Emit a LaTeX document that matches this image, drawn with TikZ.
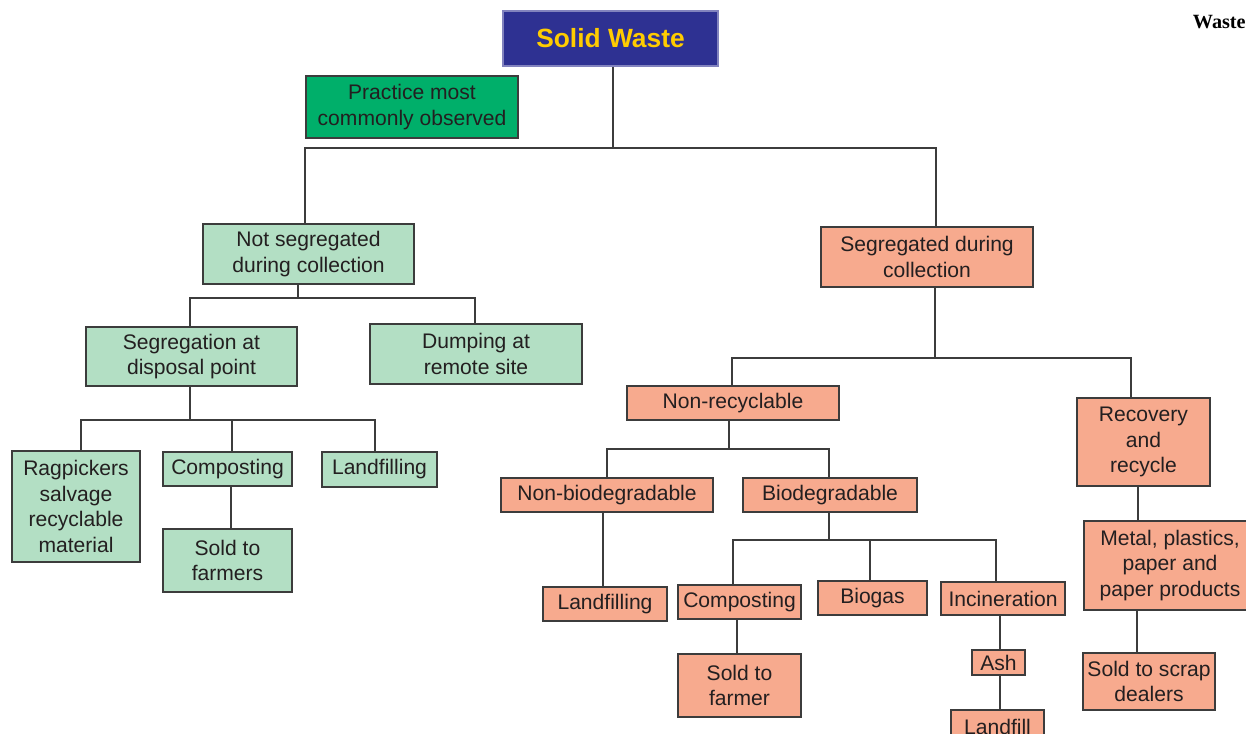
\documentclass[tikz,border=0pt]{standalone}
\usepackage{fontspec}
\setmainfont{Liberation Sans}
\newfontfamily\headfont{Liberation Serif}
\usepackage{tikz}
\usetikzlibrary{positioning}

\definecolor{titleblue}{HTML}{2E3192}
\definecolor{titleyellow}{HTML}{FFCC00}
\definecolor{practicegreen}{HTML}{00AF6A}
\definecolor{leafgreen}{HTML}{B3DFC4}
\definecolor{peach}{HTML}{F7AA8E}
\definecolor{boxline}{HTML}{3C3C3C}
\definecolor{ink}{HTML}{231F20}

\tikzset{
  box/.style={draw=boxline, line width=0.8pt, align=center, inner sep=0pt,
    text=ink, font=\fontsize{12}{14.6}\selectfont},
  greenbox/.style={box, fill=leafgreen},
  peachbox/.style={box, fill=peach},
  link/.style={draw=boxline, line width=0.8pt},
}

% parent, x of stem, y of bus, list of x/child
\newcommand{\branch}[4]{%
  \coordinate (stem-#1) at (#2,#3);
  \draw[link] (#1.south -| stem-#1) -- (stem-#1);
  \foreach \x/\c in {#4}{%
    \coordinate (drop-\c) at (\x,#3);
    \draw[link] (stem-#1) -- (drop-\c) -- (drop-\c |- \c.north);
  }%
}

\begin{document}
\begin{tikzpicture}[x=0.02cm, y=-0.02cm]
  \useasboundingbox (0,0) rectangle (1246,733);

  % ── header ──
  \node[anchor=base east, inner sep=0pt, font=\headfont\bfseries\fontsize{11.5}{13}\selectfont]
    (hdr) at (1246,29) {Waste};

  % ── top ──
  \node[box, fill=titleblue, draw=titleblue!60, text=titleyellow,
    font=\bfseries\fontsize{15}{18}\selectfont,
    minimum width=4.30cm, minimum height=1.10cm] (sw) at (610.5,38.5) {Solid Waste};
  \node[box, fill=practicegreen, minimum width=4.24cm, minimum height=1.24cm]
    (pm) at (412,107) {Practice most\\commonly observed};

  % ── not segregated side ──
  \node[greenbox, minimum width=4.22cm, minimum height=1.20cm] (ns) at (308.5,254)
    {Not segregated\\during collection};
  \node[greenbox, minimum width=4.22cm, minimum height=1.18cm] (sd) at (191.5,356.5)
    {Segregation at\\disposal point};
  \node[greenbox, minimum width=4.24cm, minimum height=1.20cm] (dr) at (476,354)
    {Dumping at\\remote site};
  \node[greenbox, minimum width=2.56cm, minimum height=2.22cm] (rp) at (76,506.5)
    {Ragpickers\\salvage\\recyclable\\material};
  \node[greenbox, minimum width=2.58cm, minimum height=0.68cm] (cl) at (227.5,469) {Composting};
  \node[greenbox, minimum width=2.30cm, minimum height=0.70cm] (ll) at (379.5,469.5) {Landfilling};
  \node[greenbox, minimum width=2.58cm, minimum height=1.26cm] (sf) at (227.5,560.5)
    {Sold to\\farmers};

  % ── segregated side ──
  \node[peachbox, minimum width=4.24cm, minimum height=1.20cm] (sg) at (927,257)
    {Segregated during\\collection};
  \node[peachbox, minimum width=4.24cm, minimum height=0.68cm] (nr) at (733,403) {Non-recyclable};
  \node[peachbox, minimum width=2.66cm, minimum height=1.76cm] (rr) at (1143.5,442)
    {Recovery\\and\\recycle};
  \node[peachbox, minimum width=4.24cm, minimum height=0.68cm] (nb) at (607,495) {Non-biodegradable};
  \node[peachbox, minimum width=3.48cm, minimum height=0.68cm] (bd) at (830,495) {Biodegradable};
  \node[peachbox, minimum width=2.48cm, minimum height=0.68cm] (lr) at (605,604) {Landfilling};
  \node[peachbox, minimum width=2.46cm, minimum height=0.68cm] (cr) at (739.5,602) {Composting};
  \node[peachbox, minimum width=2.18cm, minimum height=0.68cm] (bg) at (872.5,598) {Biogas};
  \node[peachbox, minimum width=2.48cm, minimum height=0.66cm] (in) at (1003,598.5) {Incineration};
  \node[peachbox, minimum width=2.46cm, minimum height=1.26cm] (sfr) at (739.5,685.5)
    {Sold to\\farmer};
  \node[peachbox, minimum width=1.06cm, minimum height=0.50cm] (ash) at (998.5,662.5) {Ash};
  \node[peachbox, minimum width=1.86cm, minimum height=0.68cm] (lf) at (997.5,727) {Landfill};
  \node[peachbox, minimum width=3.44cm, minimum height=1.78cm] (mp) at (1170,565.5)
    {Metal, plastics,\\paper and\\paper products};
  \node[peachbox, minimum width=2.64cm, minimum height=1.14cm] (sd2) at (1149,681.5)
    {Sold to scrap\\dealers};

  % ── connectors ──
  \branch{sw}{613}{148}{305/ns, 936/sg}
  \branch{ns}{298}{298}{190/sd, 475/dr}
  \branch{sd}{190}{420}{81/rp, 232/cl, 375/ll}
  \branch{cl}{231}{510}{231/sf}
  \branch{sg}{935}{358}{732/nr, 1131/rr}
  \branch{nr}{729}{449}{607/nb, 829/bd}
  \branch{nb}{603}{550}{603/lr}
  \branch{bd}{829}{540}{733/cr, 870/bg, 996/in}
  \branch{cr}{737}{640}{737/sfr}
  \branch{in}{1000}{630}{1000/ash}
  \branch{ash}{1000}{690}{1000/lf}
  \branch{rr}{1138}{505}{1138/mp}
  \branch{mp}{1137}{630}{1137/sd2}
\end{tikzpicture}
\end{document}
